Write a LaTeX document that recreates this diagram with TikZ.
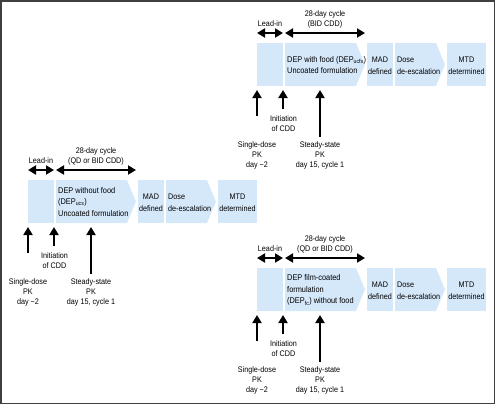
\documentclass[tikz,border=0pt]{standalone}
\usepackage{fontspec}
\setmainfont{Liberation Sans}[FakeStretch=0.89]
\usetikzlibrary{arrows.meta}
\definecolor{boxblue}{RGB}{213,232,250}
\definecolor{framegray}{RGB}{64,64,64}
\tikzset{
  lbl/.style={font=\fontsize{8.1}{10}\selectfont, inner sep=0pt, align=center},
  boxlbl/.style={font=\fontsize{8.1}{12}\selectfont, inner sep=0pt, align=center},
  intext/.style={font=\fontsize{8.3}{11.5}\selectfont, inner sep=0pt, align=left},
  boxfill/.style={fill=boxblue, draw=none},
  uparrow/.style={line width=1.8pt, -{Triangle[length=8pt,width=9pt]}},
  dblarrow/.style={line width=1.8pt, {Triangle[length=8pt,width=9pt]}-{Triangle[length=8pt,width=9pt]}},
  pics/grp/.style n args={2}{code={
    % boxes
    \fill[boxfill] (0,0) rectangle (26,43);
    \fill[boxfill] (28,0) -- (99,0) -- (108,21.5) -- (99,43) -- (28,43) -- cycle;
    \fill[boxfill] (110,0) rectangle (136,43);
    \fill[boxfill] (138,0) -- (179,0) -- (188,21.5) -- (179,43) -- (138,43) -- cycle;
    \fill[boxfill] (190,0) rectangle (229,43);
    % box texts
    \node[intext, anchor=west] (-dep) at (30,22) {#1};
    \node[boxlbl] (-mad) at (123,23) {MAD\\defined};
    \node[boxlbl, align=left, anchor=west] (-dose) at (140,23) {Dose\\de-escalation};
    \node[boxlbl] (-mtd) at (209.5,23) {MTD\\determined};
    % top arrows
    \coordinate (-la) at (0,-10);
    \coordinate (-lb) at (26,-10);
    \coordinate (-ca) at (28,-10);
    \coordinate (-cb) at (108,-10);
    \draw[dblarrow] (-la) -- (-lb);
    \draw[dblarrow] (-ca) -- (-cb);
    \node[lbl] (-leadin) at (13,-19) {Lead-in};
    \node[lbl] (-cycle) at (68,-24) {28-day cycle\\#2};
    % bottom arrows
    \coordinate (-sdtip) at (0,47);
    \coordinate (-sdbase) at (0,73);
    \coordinate (-intip) at (26,47);
    \coordinate (-inbase) at (26,66);
    \coordinate (-sstip) at (63,47);
    \coordinate (-ssbase) at (63,94);
    \draw[uparrow] (-sdbase) -- (-sdtip);
    \draw[uparrow] (-inbase) -- (-intip);
    \draw[uparrow] (-ssbase) -- (-sstip);
    \node[lbl] (-init) at (26.5,81) {Initiation\\of CDD};
    \node[lbl] (-single) at (0,112) {Single-dose\\PK\\day −2};
    \node[lbl] (-steady) at (63,112) {Steady-state\\PK\\day 15, cycle 1};
  }}
}
\begin{document}
\begin{tikzpicture}[x=1pt,y=-1pt]
  \useasboundingbox (0,0) rectangle (496,405);
  \draw[framegray, line width=1.5pt] (0.75,0.75) rectangle (494.5,403.5);
  \pic (left) at (28,180) {grp={DEP without food\\(DEP\textsubscript{ucs})\\Uncoated formulation}{(QD or BID CDD)}};
  \pic (top) at (257,43) {grp={DEP with food (DEP\textsubscript{ucfs})\\Uncoated formulation}{(BID CDD)}};
  \pic (bot) at (257,268) {grp={DEP film-coated\\formulation\\(DEP\textsubscript{fc}) without food}{(QD or BID CDD)}};
\end{tikzpicture}
\end{document}
